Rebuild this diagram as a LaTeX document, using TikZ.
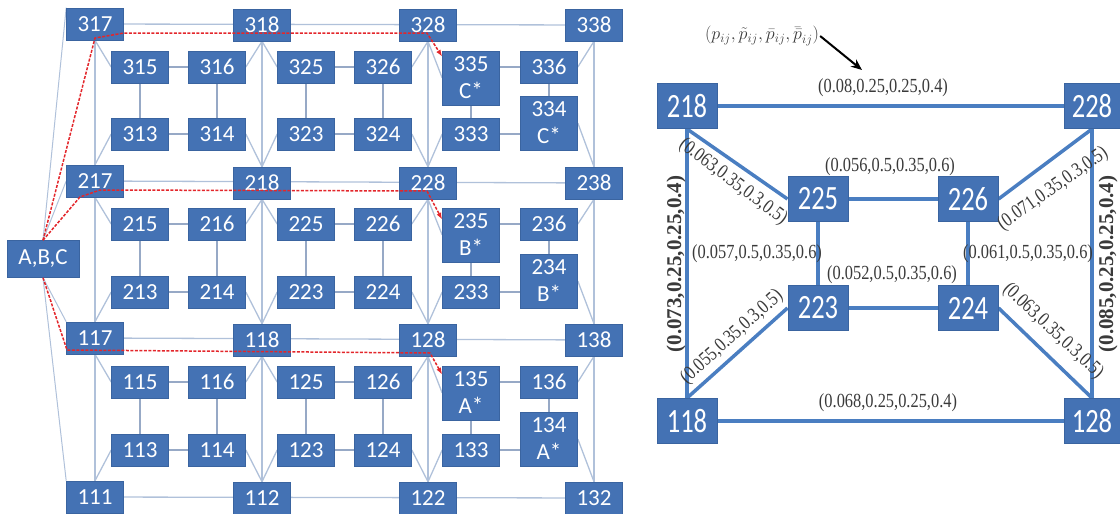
\RequirePackage{fix-cm}
\documentclass[tikz,border=0pt]{standalone}
\usepackage{fontspec}
\newfontfamily\carl{Carlito}
\newfontfamily\carlc[FakeStretch=0.78]{Carlito}
\newfontfamily\tms[FakeStretch=0.82]{Liberation Serif}
\newfontfamily\tmsb{Liberation Serif}
\usetikzlibrary{arrows.meta,backgrounds}
\definecolor{nb}{HTML}{4472B4}
\definecolor{nbd}{HTML}{3A64A0}
\definecolor{gl}{HTML}{B0C1DA}
\definecolor{il}{HTML}{97A9C6}
\definecolor{rl}{HTML}{4A7EC1}
\definecolor{rd}{HTML}{E3262B}
\definecolor{lt}{HTML}{3A3A3A}
\begin{document}
\begin{tikzpicture}[x=1pt,y=-1pt,
 box/.style={fill=nb,draw=nbd,line width=0.6pt,text=white,font=\carl\fontsize{23}{21}\selectfont,minimum width=57pt,minimum height=32pt,inner sep=0pt,align=center},
 tall/.style={box,minimum height=54pt,font=\carl\fontsize{23}{27}\selectfont},
 abc/.style={box,minimum width=72pt,minimum height=37pt},
 grid/.style={draw=gl,line width=1.3pt},
 link/.style={draw=il,line width=1.8pt},
 route/.style={draw=rd,line width=1.5pt,dash pattern=on 3pt off 1.5pt,-{Latex[length=7pt,width=5pt]}},
 rbox/.style={fill=nb,draw=nbd,line width=1pt,text=white,font=\carlc\fontsize{34}{34}\selectfont,minimum width=60pt,minimum height=45pt,inner sep=0pt},
 redge/.style={draw=rl,line width=3.5pt},
 lab/.style={text=lt,font=\tms\fontsize{20}{20}\selectfont,inner sep=0pt},
 vlab/.style={text=lt,font=\tmsb\bfseries\fontsize{21}{21}\selectfont,inner sep=0pt,rotate=90},
 pointer/.style={draw=black,line width=2pt,-{Stealth[length=11pt,width=9pt]}}
]
\useasboundingbox (0,0) rectangle (1120,514);

% ---------------- left panel: outer nodes ----------------
\node[box] (o3A) at (95,24) {317};
\node[box] (o3B) at (262,25) {318};
\node[box] (o3C) at (428,25) {328};
\node[box] (o3D) at (594,25) {338};
\node[box] (o2A) at (95,181) {217};
\node[box] (o2B) at (262,183) {218};
\node[box] (o2C) at (428,183) {228};
\node[box] (o2D) at (594,183) {238};
\node[box] (o1A) at (95,338) {117};
\node[box] (o1B) at (262,340) {118};
\node[box] (o1C) at (428,340) {128};
\node[box] (o1D) at (594,340) {138};
\node[box] (o0A) at (95,497) {111};
\node[box] (o0B) at (262,498) {112};
\node[box] (o0C) at (428,498) {122};
\node[box] (o0D) at (594,498) {132};
\node[abc] (abc) at (43,259) {A,B,C};

% inner nodes of each layer
\foreach \L/\yt/\yb/\S in {3/67/134/C, 2/224/292/B, 1/382/450/A} {
  \node[box] (n\L15) at (140,\yt) {\L15};
  \node[box] (n\L16) at (217,\yt) {\L16};
  \node[box] (n\L13) at (140,\yb) {\L13};
  \node[box] (n\L14) at (217,\yb) {\L14};
  \node[box] (n\L25) at (306,\yt) {\L25};
  \node[box] (n\L26) at (383,\yt) {\L26};
  \node[box] (n\L23) at (306,\yb) {\L23};
  \node[box] (n\L24) at (383,\yb) {\L24};
  \node[tall] (n\L35) at (471,\yt+11) {\L35\\\S*};
  \node[box] (n\L36) at (549,\yt) {\L36};
  \node[box] (n\L33) at (471,\yb) {\L33};
  \node[tall] (n\L34) at (549,\yb-11) {\L34\\\S*};
}

\begin{scope}[on background layer]
  % outer grid
  \foreach \c in {A,B,C,D} { \draw[grid] (o3\c) -- (o0\c); }
  \foreach \r in {3,2,1,0} { \draw[grid] (o\r A) -- (o\r D); }
  % links to the source
  \draw[grid,line width=1pt] (abc.north) -- (o3A.north west);
  \draw[grid,line width=1pt] (abc.north) -- (o2A.west);
  \draw[grid,line width=1pt] (abc.south) -- (o1A.north west);
  \draw[grid,line width=1pt] (abc.south) -- (o0A.north west);
  % layer connections
  \foreach \L/\B in {3/2, 2/1, 1/0} {
    \draw[grid] (o\L A.south) -- (n\L15.west);
    \draw[grid] (o\B A.north) -- (n\L13.west);
    \draw[grid] (o\L B.south) -- (n\L16.east);
    \draw[grid] (o\L B.south) -- (n\L25.west);
    \draw[grid] (o\B B.north) -- (n\L14.east);
    \draw[grid] (o\B B.north) -- (n\L23.west);
    \draw[grid] (o\L C.south) -- (n\L26.east);
    \draw[grid] (o\L C.south) -- (n\L35.west);
    \draw[grid] (o\B C.north) -- (n\L24.east);
    \draw[grid] (o\B C.north) -- (n\L33.west);
    \draw[grid] (o\L D.south) -- (n\L36.east);
    \draw[grid] (o\B D.north) -- (n\L34.east);
    \draw[link] (n\L15) -- (n\L16);
    \draw[link] (n\L13) -- (n\L14);
    \draw[link] (n\L15) -- (n\L13);
    \draw[link] (n\L16) -- (n\L14);
    \draw[link] (n\L25) -- (n\L26);
    \draw[link] (n\L23) -- (n\L24);
    \draw[link] (n\L25) -- (n\L23);
    \draw[link] (n\L26) -- (n\L24);
    \draw[link] (n\L36.west) -- (n\L36.west -| n\L35.east);
    \draw[link] (n\L33.east) -- (n\L33.east -| n\L34.west);
    \draw[link] (n\L35) -- (n\L33);
    \draw[link] (n\L36) -- (n\L34);
  }
\end{scope}

% red routes
\draw[route] (abc.north) -- (95,38) -- (124,33) -- (427,33) -- ([yshift=-6pt]n335.north west);
\draw[route] (abc.north) -- (80,197) -- (100,190) -- (427,191) -- ([yshift=-12pt]n235.north west);
\draw[route] (abc.south) -- (67,350) -- (430,353) -- ([yshift=-9pt]n135.north west);

% ---------------- right panel ----------------
\node[rbox] (r218) at (687,106) {218};
\node[rbox,minimum width=56pt] (r228) at (1092,106) {228};
\node[rbox] (r225) at (818,199) {225};
\node[rbox] (r226) at (968,199) {226};
\node[rbox] (r223) at (818,308) {223};
\node[rbox] (r224) at (968,308) {224};
\node[rbox] (r118) at (687,421) {118};
\node[rbox,minimum width=56pt] (r128) at (1092,421) {128};

\begin{scope}[on background layer]
  \draw[redge] (r218) -- (r228);
  \draw[redge] (r118) -- (r128);
  \draw[redge] (r218.south) -- (r118.north);
  \draw[redge] (r228.south) -- (r128.north);
  \draw[redge] (r218.south) -- (r225.west);
  \draw[redge] (r228.south) -- (r226.east);
  \draw[redge] (r118.north) -- (r223.west);
  \draw[redge] (r128.north) -- (r224.east);
  \draw[redge] (r225) -- (r226);
  \draw[redge] (r223) -- (r224);
  \draw[redge] (r225) -- (r223);
  \draw[redge] (r226) -- (r224);
\end{scope}

\node[lab] (l1) at (883,88) {(0.08,0.25,0.25,0.4)};
\node[lab] (l2) at (890,167) {(0.056,0.5,0.35,0.6)};
\node[lab] (l3) at (757,254) {(0.057,0.5,0.35,0.6)};
\node[lab] (l4) at (1028,254) {(0.061,0.5,0.35,0.6)};
\node[lab] (l5) at (892,275) {(0.052,0.5,0.35,0.6)};
\node[lab] (l6) at (888,403) {(0.068,0.25,0.25,0.4)};
\node[lab,rotate=-37] (d1) at (733,182) {(0.063,0.35,0.3,0.5)};
\node[lab,rotate=35] (d2) at (1053,189) {(0.071,0.35,0.3,0.5)};
\node[lab,rotate=42] (d3) at (732,337) {(0.055,0.35,0.3,0.5)};
\node[lab,rotate=-43] (d4) at (1053,331) {(0.063,0.35,0.3,0.5)};
\node[vlab] (v1) at (676,264) {(0.073,0.25,0.25,0.4)};
\node[vlab] (v2) at (1108,264) {(0.085,0.25,0.25,0.4)};

\node[text=lt,inner sep=1pt,font=\fontsize{18}{18}\selectfont] (ann) at (762,36) {$(p_{ij},\tilde{p}_{ij},\bar{p}_{ij},\bar{\bar{p}}_{ij})$};
\coordinate (anntip) at (862,70);
\draw[pointer] (ann.east) -- (anntip);
\end{tikzpicture}
\end{document}
